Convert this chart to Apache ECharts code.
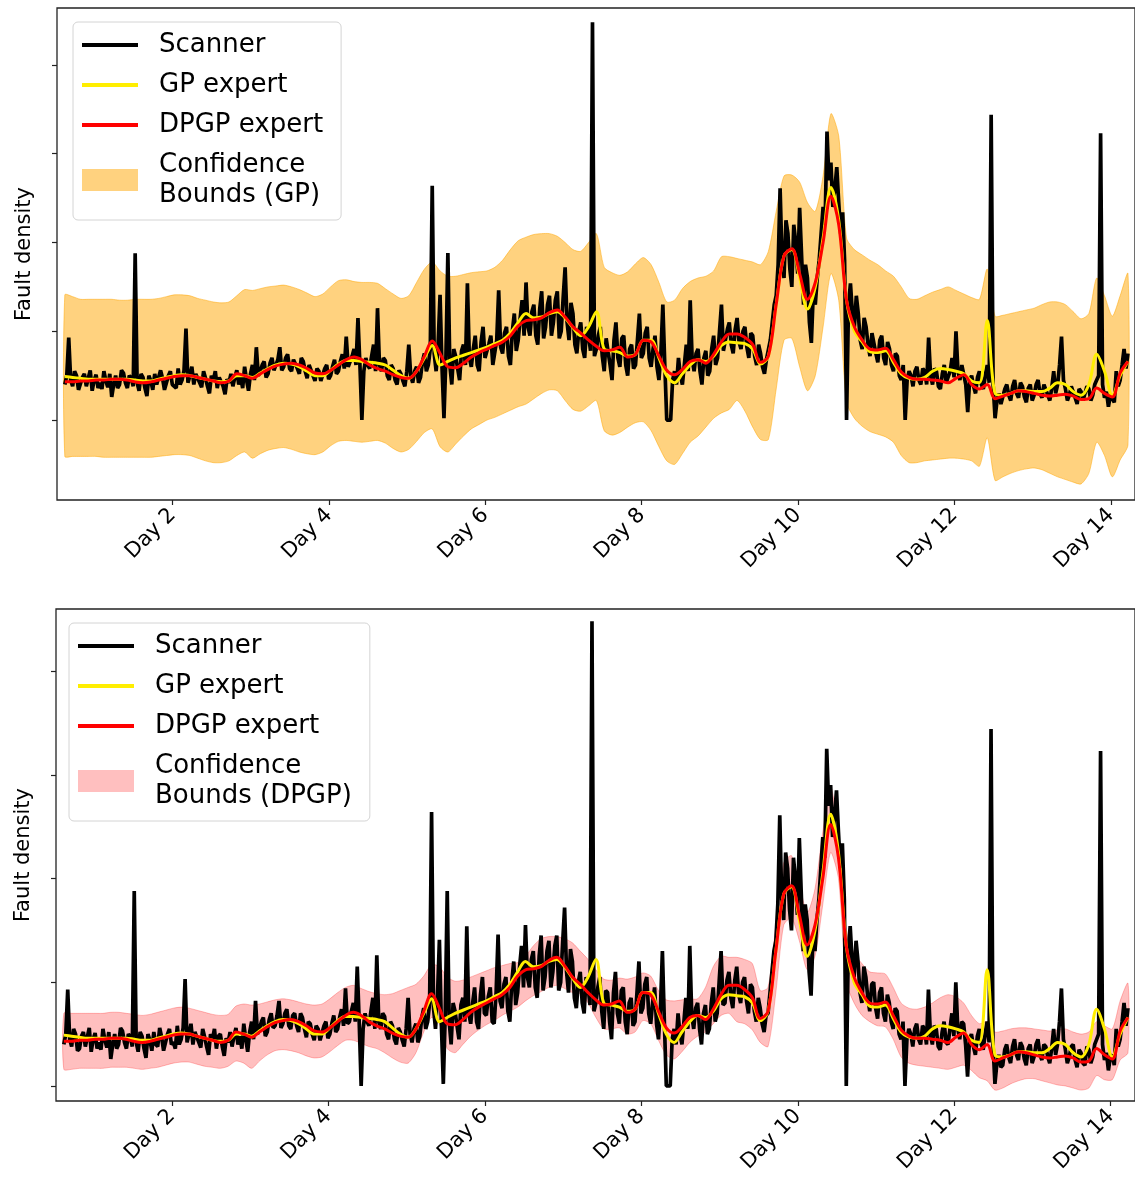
<!DOCTYPE html>
<html>
<head>
<meta charset="utf-8">
<script src="https://cdn.jsdelivr.net/npm/echarts@6/dist/echarts.min.js"></script>
<style>
  html, body { margin: 0; padding: 0; background: #fff; }
  #chart { width: 1135px; height: 1183px; }
</style>
</head>
<body>
<div id="chart"></div>
<script>
// sampling grids (days)
var SCAN_T0 = 0.62, SCAN_DT = 0.025
var FIT_T0 = 0.62, FIT_DT = 0.1
var dayTicks = [2, 4, 6, 8, 10, 12, 14]
var densityTicks = [0, 1, 2, 3, 4]

// raw scanner fault density
var scanner = [
  0.40, 0.50, 0.93, 0.45, 0.38, 0.55, 0.50, 0.34, 0.36, 0.48, 0.52, 0.38, 0.47, 0.56, 0.33, 0.45, 0.51, 0.36, 0.42, 0.35,
  0.55, 0.44, 0.37, 0.52, 0.26, 0.40, 0.50, 0.36, 0.40, 0.56, 0.53, 0.42, 0.36, 0.50, 0.47, 0.38, 1.88, 0.42, 0.33, 0.52,
  0.48, 0.36, 0.27, 0.50, 0.44, 0.34, 0.52, 0.40, 0.38, 0.56, 0.47, 0.34, 0.35, 0.50, 0.55, 0.40, 0.42, 0.36, 0.58, 0.40,
  0.45, 0.56, 1.03, 0.42, 0.50, 0.60, 0.40, 0.52, 0.53, 0.42, 0.37, 0.55, 0.47, 0.38, 0.30, 0.50, 0.45, 0.55, 0.36, 0.48,
  0.50, 0.38, 0.29, 0.46, 0.42, 0.52, 0.38, 0.48, 0.56, 0.40, 0.48, 0.36, 0.60, 0.45, 0.33, 0.52, 0.62, 0.45, 0.82, 0.50,
  0.55, 0.62, 0.66, 0.48, 0.52, 0.64, 0.70, 0.56, 0.58, 0.68, 0.82, 0.56, 0.60, 0.70, 0.74, 0.58, 0.55, 0.68, 0.70, 0.58,
  0.52, 0.70, 0.66, 0.55, 0.47, 0.62, 0.60, 0.50, 0.44, 0.58, 0.55, 0.44, 0.45, 0.58, 0.62, 0.46, 0.50, 0.60, 0.68, 0.52,
  0.55, 0.66, 0.74, 0.58, 0.94, 0.60, 0.62, 0.72, 0.80, 0.62, 1.15, 0.62, 0.00, 0.55, 0.70, 0.62, 0.58, 0.72, 0.85, 0.55,
  1.26, 0.62, 0.55, 0.70, 0.67, 0.50, 0.45, 0.62, 0.58, 0.45, 0.40, 0.56, 0.52, 0.44, 0.38, 0.55, 0.85, 0.50, 0.42, 0.55,
  0.60, 0.42, 0.48, 0.66, 0.75, 0.55, 0.62, 0.80, 2.64, 0.75, 0.55, 0.85, 1.41, 0.60, 0.02, 0.70, 1.88, 0.62, 0.40, 0.80,
  0.72, 0.58, 0.45, 0.78, 0.85, 0.62, 1.54, 0.70, 0.60, 0.80, 0.95, 0.62, 0.55, 0.88, 1.05, 0.70, 0.68, 0.86, 0.95, 0.62,
  0.60, 0.90, 1.46, 0.82, 0.75, 0.98, 1.05, 0.72, 0.62, 1.00, 1.20, 0.78, 0.90, 1.15, 1.35, 0.95, 1.55, 1.05, 0.95, 1.22,
  1.30, 0.95, 0.85, 1.25, 1.45, 0.92, 1.05, 1.30, 1.40, 0.95, 1.10, 1.35, 1.45, 0.92, 1.00, 1.38, 1.72, 1.10, 0.90, 1.32,
  1.20, 0.85, 0.75, 1.00, 1.10, 0.80, 0.70, 1.05, 0.95, 0.78, 4.48, 0.72, 0.80, 0.95, 1.05, 0.72, 0.55, 0.92, 0.90, 0.62,
  0.45, 0.90, 1.10, 0.70, 0.60, 0.92, 0.95, 0.62, 0.50, 0.80, 0.85, 0.58, 0.62, 0.90, 1.20, 0.70, 0.75, 0.98, 1.05, 0.70,
  0.60, 0.80, 0.95, 0.60, 0.45, 0.75, 1.30, 0.62, 0.00, 0.00, 0.00, 0.45, 0.55, 0.40, 0.70, 0.50, 0.40, 0.62, 0.85, 0.55,
  1.35, 0.68, 0.55, 0.75, 0.80, 0.55, 0.40, 0.70, 0.78, 0.50, 0.55, 0.80, 0.95, 0.62, 0.70, 1.00, 1.30, 0.78, 0.80, 1.02,
  1.10, 0.85, 0.75, 1.02, 1.15, 0.88, 0.80, 1.00, 1.05, 0.82, 0.70, 0.98, 0.95, 0.72, 0.62, 0.85, 0.75, 0.60, 0.52, 0.68,
  0.70, 0.90, 1.10, 1.30, 1.40, 1.75, 2.61, 1.80, 1.60, 2.25, 2.10, 1.70, 1.50, 2.20, 2.00, 1.65, 2.39, 1.85, 1.30, 1.75,
  1.60, 1.10, 0.87, 1.45, 1.30, 1.60, 1.80, 2.10, 2.40, 2.20, 3.25, 2.70, 2.90, 2.40, 2.60, 2.85, 2.45, 2.10, 2.34, 1.80,
  0.00, 1.30, 1.54, 1.20, 1.05, 1.40, 1.20, 0.90, 0.80, 1.15, 1.05, 0.85, 0.72, 0.98, 1.00, 0.75, 0.65, 0.90, 0.95, 0.70,
  0.62, 0.88, 0.80, 0.62, 0.55, 0.75, 0.72, 0.50, 0.45, 0.62, 0.00, 0.45, 0.55, 0.50, 0.38, 0.55, 0.60, 0.45, 0.40, 0.58,
  0.55, 0.40, 0.93, 0.50, 0.40, 0.58, 0.55, 0.38, 0.35, 0.52, 0.62, 0.42, 0.40, 0.55, 0.70, 0.48, 1.00, 0.55, 0.45, 0.62,
  0.60, 0.40, 0.09, 0.45, 0.50, 0.38, 0.30, 0.48, 0.55, 0.40, 0.35, 0.50, 0.62, 0.42, 3.44, 0.40, 0.02, 0.22, 0.30, 0.18,
  0.20, 0.35, 0.40, 0.28, 0.22, 0.38, 0.45, 0.30, 0.25, 0.42, 0.38, 0.26, 0.20, 0.36, 0.40, 0.22, 0.28, 0.40, 0.45, 0.30,
  0.25, 0.40, 0.38, 0.28, 0.22, 0.36, 0.55, 0.30, 0.40, 0.62, 0.94, 0.45, 0.35, 0.22, 0.28, 0.38, 0.40, 0.25, 0.18, 0.35,
  0.32, 0.22, 0.20, 0.38, 0.35, 0.22, 0.28, 0.40, 0.45, 0.50, 3.23, 0.40, 0.25, 0.32, 0.15, 0.28, 0.30, 0.20, 0.55, 0.38,
  0.45, 0.62, 0.80, 0.58, 0.75
]

// GP expert mean
var gpMean = [
  0.49, 0.48, 0.47, 0.46, 0.46, 0.46, 0.46, 0.46, 0.46, 0.45,
  0.44, 0.44, 0.46, 0.48, 0.50, 0.51, 0.50, 0.48, 0.46, 0.44,
  0.43, 0.44, 0.50, 0.50, 0.48, 0.53, 0.58, 0.62, 0.64, 0.63,
  0.60, 0.55, 0.50, 0.50, 0.56, 0.63, 0.67, 0.67, 0.66, 0.65,
  0.64, 0.62, 0.56, 0.50, 0.47, 0.55, 0.70, 0.84, 0.62, 0.66,
  0.70, 0.73, 0.76, 0.79, 0.82, 0.86, 0.90, 0.98, 1.10, 1.20,
  1.15, 1.16, 1.20, 1.22, 1.15, 1.04, 0.95, 1.05, 1.22, 0.80,
  0.78, 0.76, 0.72, 0.74, 0.90, 0.90, 0.70, 0.50, 0.42, 0.52,
  0.62, 0.68, 0.66, 0.72, 0.84, 0.88, 0.87, 0.86, 0.80, 0.63,
  0.72, 1.30, 1.85, 1.92, 1.60, 1.25, 1.50, 2.05, 2.62, 2.25,
  1.35, 1.00, 0.88, 0.77, 0.76, 0.78, 0.65, 0.52, 0.47, 0.46,
  0.48, 0.55, 0.58, 0.57, 0.55, 0.52, 0.44, 0.42, 1.12, 0.30,
  0.28, 0.30, 0.33, 0.33, 0.32, 0.32, 0.36, 0.42, 0.40, 0.32,
  0.28, 0.40, 0.74, 0.55, 0.28, 0.50, 0.66
]

// DPGP expert mean
var dpgpMean = [
  0.43, 0.43, 0.44, 0.44, 0.45, 0.45, 0.46, 0.46, 0.45, 0.43,
  0.42, 0.43, 0.45, 0.47, 0.49, 0.50, 0.50, 0.48, 0.46, 0.44,
  0.42, 0.44, 0.52, 0.50, 0.47, 0.52, 0.57, 0.61, 0.63, 0.64,
  0.62, 0.58, 0.53, 0.52, 0.56, 0.62, 0.68, 0.71, 0.68, 0.62,
  0.58, 0.55, 0.51, 0.48, 0.47, 0.55, 0.72, 0.89, 0.75, 0.60,
  0.59, 0.64, 0.71, 0.76, 0.80, 0.84, 0.88, 0.95, 1.06, 1.12,
  1.13, 1.15, 1.21, 1.24, 1.16, 1.05, 0.98, 0.90, 0.83, 0.78,
  0.79, 0.82, 0.71, 0.74, 0.90, 0.88, 0.72, 0.56, 0.51, 0.57,
  0.66, 0.68, 0.64, 0.74, 0.88, 0.97, 0.97, 0.93, 0.85, 0.65,
  0.72, 1.30, 1.85, 1.93, 1.65, 1.36, 1.55, 2.00, 2.52, 2.20,
  1.35, 1.05, 0.90, 0.80, 0.79, 0.81, 0.68, 0.54, 0.48, 0.46,
  0.46, 0.45, 0.44, 0.42, 0.47, 0.51, 0.40, 0.35, 0.40, 0.24,
  0.27, 0.30, 0.33, 0.32, 0.30, 0.28, 0.27, 0.28, 0.29, 0.27,
  0.23, 0.24, 0.36, 0.30, 0.26, 0.53, 0.66
]

// GP confidence bounds
var gpUpper = [
  1.41, 1.39, 1.36, 1.36, 1.36, 1.36, 1.36, 1.35, 1.35, 1.36,
  1.36, 1.36, 1.37, 1.39, 1.41, 1.41, 1.40, 1.37, 1.35, 1.33,
  1.32, 1.33, 1.40, 1.47, 1.46, 1.48, 1.50, 1.51, 1.52, 1.50,
  1.47, 1.43, 1.39, 1.42, 1.50, 1.57, 1.58, 1.56, 1.55, 1.55,
  1.54, 1.48, 1.42, 1.37, 1.40, 1.55, 1.70, 1.78, 1.68, 1.62,
  1.62, 1.64, 1.66, 1.67, 1.68, 1.72, 1.80, 1.92, 2.02, 2.06,
  2.09, 2.10, 2.10, 2.07, 2.00, 1.92, 1.90, 2.00, 2.10, 1.72,
  1.66, 1.63, 1.67, 1.76, 1.83, 1.75, 1.55, 1.33, 1.35, 1.48,
  1.56, 1.60, 1.62, 1.68, 1.84, 1.84, 1.82, 1.80, 1.78, 1.75,
  1.90, 2.35, 2.75, 2.76, 2.68, 2.45, 2.35, 2.75, 3.45, 3.20,
  2.05, 1.92, 1.86, 1.80, 1.75, 1.68, 1.62, 1.50, 1.37, 1.36,
  1.40, 1.44, 1.47, 1.50, 1.46, 1.42, 1.38, 1.36, 1.70, 1.17,
  1.18, 1.20, 1.22, 1.24, 1.26, 1.30, 1.33, 1.33, 1.30, 1.22,
  1.14, 1.20, 1.60, 1.40, 1.17, 1.40, 1.65
]
var gpLower = [
  -0.41, -0.41, -0.41, -0.41, -0.41, -0.42, -0.42, -0.42, -0.42, -0.42,
  -0.42, -0.42, -0.41, -0.40, -0.39, -0.39, -0.40, -0.43, -0.46, -0.48,
  -0.48, -0.46, -0.40, -0.36, -0.43, -0.38, -0.34, -0.32, -0.31, -0.33,
  -0.36, -0.38, -0.39, -0.36, -0.29, -0.24, -0.23, -0.24, -0.25, -0.24,
  -0.23, -0.26, -0.32, -0.36, -0.33, -0.24, -0.14, -0.10, -0.30, -0.36,
  -0.27, -0.18, -0.10, -0.05, 0.00, 0.03, 0.07, 0.11, 0.15, 0.18,
  0.24, 0.30, 0.34, 0.33, 0.22, 0.12, 0.10, 0.16, 0.22, -0.12,
  -0.17, -0.14, -0.08, -0.03, -0.02, -0.12, -0.30, -0.46, -0.50, -0.38,
  -0.25, -0.18, -0.08, 0.02, 0.08, 0.12, 0.22, 0.10, -0.08, -0.22,
  -0.22, 0.35, 0.90, 0.92, 0.60, 0.33, 0.50, 1.05, 1.65, 1.35,
  0.20, 0.02, -0.07, -0.13, -0.16, -0.19, -0.25, -0.40, -0.48, -0.48,
  -0.46, -0.45, -0.44, -0.43, -0.43, -0.44, -0.46, -0.52, -0.20, -0.68,
  -0.64, -0.60, -0.57, -0.55, -0.54, -0.56, -0.60, -0.64, -0.67, -0.70,
  -0.72, -0.60, -0.25, -0.40, -0.64, -0.45, -0.28
]

// DPGP confidence bounds
var dpgpUpper = [
  0.70, 0.70, 0.70, 0.70, 0.70, 0.70, 0.71, 0.71, 0.70, 0.69,
  0.68, 0.69, 0.71, 0.73, 0.75, 0.76, 0.75, 0.73, 0.71, 0.69,
  0.68, 0.69, 0.77, 0.79, 0.78, 0.79, 0.81, 0.83, 0.84, 0.83,
  0.81, 0.79, 0.78, 0.79, 0.84, 0.90, 0.95, 0.97, 0.94, 0.91,
  0.89, 0.88, 0.89, 0.92, 0.95, 0.98, 1.06, 1.17, 1.15, 1.05,
  1.01, 1.02, 1.05, 1.08, 1.11, 1.14, 1.16, 1.18, 1.19, 1.25,
  1.35, 1.42, 1.44, 1.44, 1.42, 1.38, 1.30, 1.22, 1.12, 1.03,
  1.02, 1.04, 1.03, 1.05, 1.09, 1.06, 0.92, 0.83, 0.82, 0.83,
  0.84, 0.84, 0.95, 1.15, 1.25, 1.24, 1.24, 1.22, 1.18, 0.92,
  0.95, 1.55, 2.15, 2.22, 1.95, 1.67, 1.90, 2.45, 2.88, 2.45,
  1.50, 1.28, 1.18, 1.10, 1.09, 1.08, 0.95, 0.80, 0.75, 0.74,
  0.76, 0.80, 0.85, 0.88, 0.86, 0.80, 0.68, 0.60, 0.62, 0.52,
  0.53, 0.55, 0.56, 0.56, 0.55, 0.54, 0.53, 0.54, 0.55, 0.52,
  0.50, 0.52, 0.62, 0.58, 0.55, 0.82, 0.99
]
var dpgpLower = [
  0.16, 0.16, 0.17, 0.17, 0.17, 0.17, 0.18, 0.18, 0.18, 0.17,
  0.16, 0.17, 0.18, 0.20, 0.22, 0.23, 0.23, 0.21, 0.19, 0.18,
  0.17, 0.19, 0.24, 0.22, 0.17, 0.24, 0.30, 0.34, 0.35, 0.34,
  0.32, 0.29, 0.27, 0.28, 0.33, 0.39, 0.44, 0.44, 0.41, 0.38,
  0.36, 0.32, 0.27, 0.23, 0.22, 0.32, 0.52, 0.66, 0.60, 0.36,
  0.32, 0.40, 0.48, 0.54, 0.59, 0.63, 0.68, 0.72, 0.76, 0.82,
  0.87, 0.91, 0.95, 0.97, 0.94, 0.90, 0.89, 0.80, 0.66, 0.55,
  0.55, 0.56, 0.50, 0.52, 0.63, 0.60, 0.44, 0.30, 0.26, 0.33,
  0.42, 0.48, 0.52, 0.60, 0.68, 0.70, 0.62, 0.60, 0.54, 0.42,
  0.38, 0.90, 1.55, 1.62, 1.40, 1.12, 1.25, 1.75, 2.25, 2.00,
  1.00, 0.80, 0.68, 0.62, 0.58, 0.57, 0.45, 0.28, 0.22, 0.20,
  0.19, 0.18, 0.17, 0.16, 0.18, 0.20, 0.15, 0.08, 0.05, -0.04,
  -0.02, 0.02, 0.05, 0.07, 0.07, 0.05, 0.03, 0.01, 0.00, -0.02,
  -0.04, -0.02, 0.10, 0.06, 0.06, 0.25, 0.32
]

var FONT = 'DejaVu Sans'
var GP_BAND = 'rgba(255,165,0,0.5)'
var DPGP_BAND = 'rgba(255,0,0,0.25)'

function days (t0, dt, n) {
  var out = []
  for (var i = 0; i < n; i++) out.push(+(t0 + i * dt).toFixed(3))
  return out
}
var scanDays = days(SCAN_T0, SCAN_DT, scanner.length)
var fitDays = days(FIT_T0, FIT_DT, gpMean.length)

function pairs (xs, ys) {
  return ys.map(function (v, i) { return [xs[i], v] })
}

// filled region between lo and hi, drawn as one polygon through the axes
function bandSeries (idx, name, color, hi, lo) {
  return {
    type: 'custom', name: name, xAxisIndex: idx, yAxisIndex: idx,
    silent: true, color: color, itemStyle: { color: color },
    data: fitDays.map(function (d, i) { return [d, lo[i], hi[i]] }),
    encode: { x: 0, y: [1, 2] },
    renderItem: function (params, api) {
      if (params.dataIndex !== 0) return null
      var pts = []
      for (var i = 0; i < fitDays.length; i++) pts.push(api.coord([fitDays[i], hi[i]]))
      for (var k = fitDays.length - 1; k >= 0; k--) pts.push(api.coord([fitDays[k], lo[k]]))
      return {
        type: 'polygon',
        shape: { points: pts, smooth: 0.25 },
        style: { fill: color, stroke: color, lineWidth: 1 }
      }
    }
  }
}

function panelSeries (idx, bandName, bandColor, hi, lo) {
  var common = { xAxisIndex: idx, yAxisIndex: idx, type: 'line', symbol: 'none', silent: true }
  return [
    bandSeries(idx, bandName, bandColor, hi, lo),
    Object.assign({}, common, {
      name: 'Scanner', color: '#000',
      data: pairs(scanDays, scanner),
      lineStyle: { color: '#000', width: 3.7 }
    }),
    Object.assign({}, common, {
      name: 'GP expert', color: '#ffee00', smooth: 0.35,
      data: pairs(fitDays, gpMean),
      lineStyle: { color: '#ffee00', width: 3 }
    }),
    Object.assign({}, common, {
      name: 'DPGP expert', color: '#ff0000', smooth: 0.35,
      data: pairs(fitDays, dpgpMean),
      lineStyle: { color: '#ff0000', width: 3 }
    })
  ]
}

var LINE_ICON = 'path://M0,0H56V4H0Z'
function panelLegend (left, top, bandName, bandColor) {
  return {
    left: left, top: top, orient: 'vertical',
    selectedMode: false,
    itemWidth: 56, itemHeight: 22, itemGap: 10,
    padding: [8, 18, 10, 9],
    backgroundColor: 'rgba(255,255,255,0.8)',
    borderColor: '#d4d4d4', borderWidth: 1, borderRadius: 5,
    textStyle: { fontFamily: FONT, fontSize: 26, color: '#000', lineHeight: 30, padding: [0, 0, 0, 16] },
    formatter: function (name) { return name.replace('Confidence ', 'Confidence\n') },
    data: [
      { name: 'Scanner', icon: LINE_ICON, itemStyle: { color: '#000' } },
      { name: 'GP expert', icon: LINE_ICON, itemStyle: { color: '#ffee00' } },
      { name: 'DPGP expert', icon: LINE_ICON, itemStyle: { color: '#ff0000' } },
      { name: bandName, icon: 'rect', itemStyle: { color: bandColor } }
    ]
  }
}

function xAxisFor (idx) {
  return {
    gridIndex: idx, type: 'value', min: 0.52, max: 14.31,
    axisLine: { show: false, onZero: false },
    splitLine: { show: false },
    axisTick: { customValues: dayTicks, length: 5, lineStyle: { color: '#222', width: 1.2 } },
    axisLabel: {
      customValues: dayTicks, rotate: 45, margin: 12,
      fontFamily: FONT, fontSize: 21, color: '#000',
      formatter: function (v) { return 'Day ' + v }
    }
  }
}
function yAxisFor (idx, min, max) {
  return {
    gridIndex: idx, type: 'value', min: min, max: max,
    name: 'Fault density', nameLocation: 'middle', nameRotate: 90, nameGap: 22,
    nameTextStyle: { fontFamily: FONT, fontSize: 21, color: '#000' },
    axisLine: { show: false, onZero: false },
    splitLine: { show: false },
    axisTick: { customValues: densityTicks, length: 5, lineStyle: { color: '#222', width: 1.2 } },
    axisLabel: { show: false, customValues: densityTicks }
  }
}

var chart = echarts.init(document.getElementById('chart'))
chart.setOption({
  animation: false,
  backgroundColor: '#fff',
  grid: [
    { left: 57, top: 8, width: 1080, height: 492, show: true, borderColor: '#222', borderWidth: 1.3 },
    { left: 56, top: 609, width: 1081, height: 492, show: true, borderColor: '#222', borderWidth: 1.3 }
  ],
  xAxis: [xAxisFor(0), xAxisFor(1)],
  yAxis: [yAxisFor(0, -0.901, 4.642), yAxisFor(1, -0.145, 4.598)],
  legend: [
    panelLegend(73, 22, 'Confidence Bounds (GP)', GP_BAND),
    panelLegend(69, 623, 'Confidence Bounds (DPGP)', DPGP_BAND)
  ],
  series: panelSeries(0, 'Confidence Bounds (GP)', GP_BAND, gpUpper, gpLower)
    .concat(panelSeries(1, 'Confidence Bounds (DPGP)', DPGP_BAND, dpgpUpper, dpgpLower))
})
</script>
</body>
</html>
